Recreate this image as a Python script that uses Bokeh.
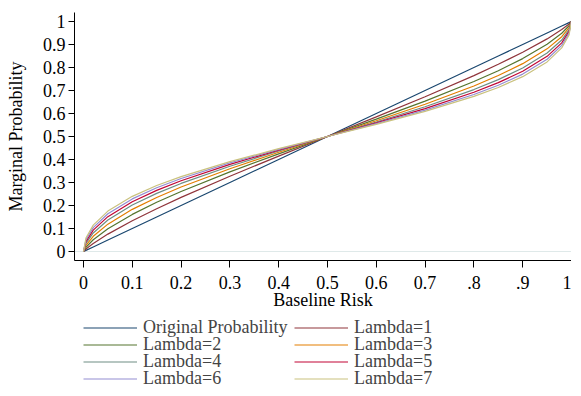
from bokeh.plotting import figure
from bokeh.layouts import column
from bokeh.models import Legend, LegendItem, FixedTicker, Range1d
from bokeh.embed import file_html
from bokeh.resources import INLINE

baseline = [0, 0.005, 0.02, 0.05, 0.1, 0.15, 0.2, 0.3, 0.4, 0.5, 0.6, 0.7, 0.8, 0.85, 0.9, 0.95, 0.98, 0.995, 1]
original = [0, 0.005, 0.02, 0.05, 0.1, 0.15, 0.2, 0.3, 0.4, 0.5, 0.6, 0.7, 0.8, 0.85, 0.9, 0.95, 0.98, 0.995, 1]
lambda1 = [0, 0.0110, 0.0353, 0.0757, 0.1339, 0.1862, 0.2354, 0.3274, 0.4148, 0.5, 0.5852, 0.6726, 0.7646, 0.8138, 0.8661, 0.9243, 0.9647, 0.9890, 1]
lambda2 = [0, 0.0185, 0.0512, 0.0990, 0.1614, 0.2140, 0.2612, 0.3464, 0.4246, 0.5, 0.5754, 0.6536, 0.7388, 0.7860, 0.8386, 0.9010, 0.9488, 0.9815, 1]
lambda3 = [0, 0.0266, 0.0662, 0.1190, 0.1833, 0.2351, 0.2805, 0.3598, 0.4316, 0.5, 0.5684, 0.6402, 0.7195, 0.7649, 0.8167, 0.8810, 0.9338, 0.9734, 1]
lambda4 = [0, 0.0353, 0.0807, 0.1370, 0.2021, 0.2527, 0.2960, 0.3708, 0.4371, 0.5, 0.5629, 0.6292, 0.7040, 0.7473, 0.7979, 0.8630, 0.9193, 0.9647, 1]
lambda5 = [0, 0.0433, 0.0930, 0.1516, 0.2167, 0.2660, 0.3077, 0.3788, 0.4411, 0.5, 0.5589, 0.6212, 0.6923, 0.7340, 0.7833, 0.8484, 0.9070, 0.9567, 1]
lambda6 = [0, 0.0508, 0.1041, 0.1641, 0.2288, 0.2771, 0.3174, 0.3851, 0.4442, 0.5, 0.5558, 0.6149, 0.6826, 0.7229, 0.7712, 0.8359, 0.8959, 0.9492, 1]
lambda7 = [0, 0.0585, 0.1148, 0.1757, 0.2399, 0.2868, 0.3256, 0.3906, 0.4470, 0.5, 0.5530, 0.6094, 0.6744, 0.7132, 0.7601, 0.8243, 0.8852, 0.9415, 1]

series_labels = ["Original Probability", "Lambda=1", "Lambda=2", "Lambda=3",
                 "Lambda=4", "Lambda=5", "Lambda=6", "Lambda=7"]
series_values = [original, lambda1, lambda2, lambda3, lambda4, lambda5, lambda6, lambda7]
colors = ["#1a476f", "#90353b", "#55752f", "#e37e00", "#6e8e84", "#c10534", "#938dd2", "#cac27e"]

xticks = [0, 0.1, 0.2, 0.3, 0.4, 0.5, 0.6, 0.7, 0.8, 0.9, 1]
xtick_labels = ["0", "0.1", "0.2", "0.3", "0.4", "0.5", "0.6", "0.7", ".8", ".9", "1"]
yticks = [0, 0.1, 0.2, 0.3, 0.4, 0.5, 0.6, 0.7, 0.8, 0.9, 1]
ytick_labels = ["0", "0.1", "0.2", "0.3", "0.4", "0.5", "0.6", "0.7", "0.8", "0.9", "1"]

FONT = "Liberation Serif"

p = figure(frame_width=497, frame_height=248, output_backend="svg", toolbar_location=None,
           x_range=Range1d(-0.0184, 1.0), y_range=Range1d(-0.039, 1.039),
           min_border_left=74, min_border_top=12, min_border_right=0, min_border_bottom=55)
p.outline_line_color = None
p.background_fill_color = "white"
p.border_fill_color = "white"

for lab, vals, c in zip(series_labels, series_values, colors):
    p.line(baseline, vals, line_color=c, line_width=1.2)

p.xgrid.visible = False
p.ygrid.ticker = FixedTicker(ticks=[0])
p.ygrid.grid_line_color = "#dfe9e9"

for ax in (p.xaxis[0], p.yaxis[0]):
    ax.major_label_text_font = FONT
    ax.major_label_text_font_size = "18px"
    ax.major_label_text_color = "black"
    ax.axis_label_text_font = FONT
    ax.axis_label_text_font_size = "18px"
    ax.axis_label_text_font_style = "normal"
    ax.axis_label_text_color = "black"
    ax.axis_line_color = "black"
    ax.major_tick_line_color = "black"
    ax.major_tick_in = 0
    ax.minor_tick_line_color = None

p.xaxis.ticker = FixedTicker(ticks=xticks)
p.xaxis.major_label_overrides = {t: l for t, l in zip(xticks, xtick_labels)}
p.xaxis.major_tick_out = 7
p.xaxis.major_label_standoff = 8
p.xaxis.axis_label = "Baseline Risk"
p.xaxis.axis_label_standoff = -2

p.yaxis.ticker = FixedTicker(ticks=yticks)
p.yaxis.major_label_overrides = {t: l for t, l in zip(yticks, ytick_labels)}
p.yaxis.major_tick_out = 6
p.yaxis.major_label_standoff = 3
p.yaxis.axis_label = "Marginal Probability"
p.yaxis.axis_label_standoff = 14

# legend strip below the plot; the series are re-drawn here outside the visible range
p2 = figure(width=571, height=78, output_backend="svg", toolbar_location=None,
            x_range=Range1d(-0.0184, 1.0), y_range=Range1d(10, 11),
            min_border_left=74, min_border_right=0, min_border_top=0, min_border_bottom=0)
p2.axis.visible = False
p2.grid.visible = False
p2.outline_line_color = None
p2.border_fill_color = "white"

items = []
for lab, vals, c in zip(series_labels, series_values, colors):
    r = p2.line(baseline, vals, line_color=c, line_width=1.2)
    items.append(LegendItem(label=lab, renderers=[r]))

# one legend per row (two columns each) so the row pitch can be tighter than the text box
row_offsets = [55, 38, 21, 4]
for row, yoff in enumerate(row_offsets):
    legend = Legend(items=items[2 * row:2 * row + 2], orientation="horizontal", ncols=2,
                    location=(9, yoff), margin=0, padding=0, spacing=0,
                    glyph_width=54, glyph_height=17, label_standoff=6,
                    label_height=17, label_width=151,
                    label_text_font=FONT, label_text_font_size="18px",
                    border_line_color=None, background_fill_alpha=0)
    p2.add_layout(legend, "center")

layout = column(p, p2, spacing=0)
open("out.html", "w").write(file_html(layout, INLINE))
